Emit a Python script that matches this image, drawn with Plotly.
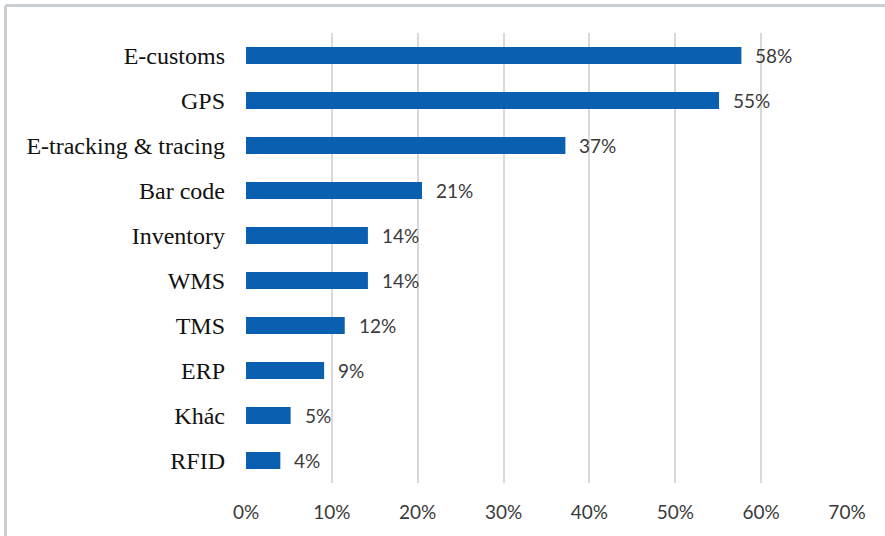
import plotly.graph_objects as go

categories = ["E-customs", "GPS", "E-tracking & tracing", "Bar code", "Inventory",
              "WMS", "TMS", "ERP", "Khác", "RFID"]
shares = [57.7, 55.1, 37.2, 20.5, 14.2, 14.2, 11.5, 9.1, 5.2, 4.0]
labels = ["58%", "55%", "37%", "21%", "14%", "14%", "12%", "9%", "5%", "4%"]
tick_vals = [0, 10, 20, 30, 40, 50, 60, 70]
tick_text = ["0%", "10%", "20%", "30%", "40%", "50%", "60%", "70%"]

W, H = 885, 536
ML, MR, MT, MB = 246, 38, 33, 53

sans = "Lato, Open Sans, sans-serif"

fig = go.Figure(go.Bar(
    x=shares,
    y=categories,
    orientation="h",
    marker=dict(color="#0b5fb0", line=dict(width=0)),
    hoverinfo="skip",
))

for cat, val, lab in zip(categories, shares, labels):
    fig.add_annotation(
        x=val, y=cat, text=lab, showarrow=False,
        xanchor="left", xshift=12,
        font=dict(family=sans, size=19, color="#3a3a3a"),
    )

# light frame on top and left, like the cropped screenshot
pw, ph = W - ML - MR, H - MT - MB
top_y = (H - MB - 5.5) / ph
left_x = (5.5 - ML) / pw
fig.add_shape(type="line", xref="paper", yref="paper",
              x0=left_x, x1=(W - ML) / pw, y0=top_y, y1=top_y,
              line=dict(color="#c9cfd3", width=3))
fig.add_shape(type="line", xref="paper", yref="paper",
              x0=left_x, x1=left_x, y0=top_y, y1=-MB / ph - 0.01,
              line=dict(color="#c9cfd3", width=3))

fig.update_layout(
    width=W, height=H,
    margin=dict(l=ML, r=MR, t=MT, b=MB),
    paper_bgcolor="white",
    plot_bgcolor="white",
    bargap=0.62,
    showlegend=False,
    xaxis=dict(
        range=[0, 70],
        tickvals=tick_vals,
        ticktext=tick_text,
        showgrid=True,
        gridcolor="#d9d9d9",
        gridwidth=1.5,
        zeroline=False,
        showline=False,
        ticklabelstandoff=16,
        tickfont=dict(family=sans, size=19, color="#3a3a3a"),
    ),
    yaxis=dict(
        autorange="reversed",
        showgrid=False,
        showline=False,
        ticklabelstandoff=20,
        tickfont=dict(family="Liberation Serif, Times New Roman, serif", size=24, color="#111111"),
    ),
)

# drop the browser's default body margin so the figure sits at the corner
fig.write_html("out.html", config={"displayModeBar": False},
               post_script="document.body.style.margin='0';")
